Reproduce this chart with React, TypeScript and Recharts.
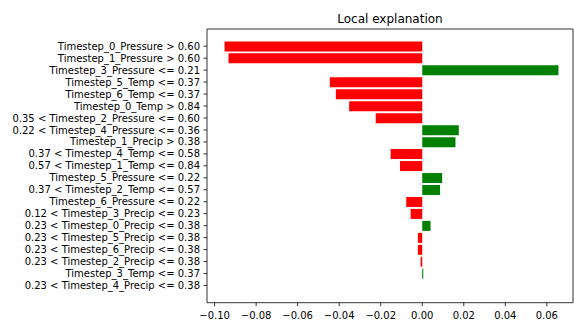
import React from 'react';
import { BarChart, Bar, XAxis, YAxis, Cell } from 'recharts';

const labels: string[] = [
  'Timestep_0_Pressure > 0.60',
  'Timestep_1_Pressure > 0.60',
  'Timestep_3_Pressure <= 0.21',
  'Timestep_5_Temp <= 0.37',
  'Timestep_6_Temp <= 0.37',
  'Timestep_0_Temp > 0.84',
  '0.35 < Timestep_2_Pressure <= 0.60',
  '0.22 < Timestep_4_Pressure <= 0.36',
  'Timestep_1_Precip > 0.38',
  '0.37 < Timestep_4_Temp <= 0.58',
  '0.57 < Timestep_1_Temp <= 0.84',
  'Timestep_5_Pressure <= 0.22',
  '0.37 < Timestep_2_Temp <= 0.57',
  'Timestep_6_Pressure <= 0.22',
  '0.12 < Timestep_3_Precip <= 0.23',
  '0.23 < Timestep_0_Precip <= 0.38',
  '0.23 < Timestep_5_Precip <= 0.38',
  '0.23 < Timestep_6_Precip <= 0.38',
  '0.23 < Timestep_2_Precip <= 0.38',
  'Timestep_3_Temp <= 0.37',
  '0.23 < Timestep_4_Precip <= 0.38',
];

const weights: number[] = [
  -0.0952, -0.0933, 0.0656, -0.0445, -0.0416, -0.0352, -0.0224, 0.0176, 0.016,
  -0.0152, -0.0107, 0.0096, 0.0086, -0.0077, -0.0056, 0.004, -0.0021, -0.0021,
  -0.0008, 0.0005, 0,
];

const xTicks: number[] = [-0.1, -0.08, -0.06, -0.04, -0.02, 0, 0.02, 0.04, 0.06];

const X_MIN = -0.10365;
const X_MAX = 0.0726;

const data = labels.map((label, i) => ({ label, value: weights[i] }));

const fmt = (v: number) => {
  const s = Math.abs(v).toFixed(2);
  return v < -1e-9 ? '\u2212' + s : s;
};

const font = 'DejaVu Sans, sans-serif';
const axisStroke = { stroke: '#000', strokeWidth: 0.8 };

const YTick = (props: any) => {
  const { x, y, payload } = props;
  return (
    <text x={x} y={y} dy="0.355em" textAnchor="end" fontFamily={font} fontSize={10} fill="#000">
      {payload.value}
    </text>
  );
};

const XTick = (props: any) => {
  const { x, y, payload } = props;
  return (
    <text x={x} y={y} dy="0.75em" textAnchor="middle" fontFamily={font} fontSize={10} fill="#000">
      {fmt(payload.value)}
    </text>
  );
};

export default function App() {
  return (
    <div style={{ position: 'absolute', left: 0, top: 0, width: 574, height: 323, fontFamily: font, background: '#fff' }}>
      <div
        style={{
          position: 'absolute',
          left: 207,
          top: 12,
          width: 366,
          textAlign: 'center',
          fontSize: 12,
          lineHeight: '14px',
          color: '#000',
          fontFamily: font,
        }}
      >
        Local explanation
      </div>
      <BarChart
        width={574}
        height={323}
        data={data}
        layout="vertical"
        margin={{ top: 28, right: 0, bottom: 0, left: 0 }}
        barCategoryGap="10%"
      >
        <XAxis
          xAxisId="b"
          type="number"
          domain={[X_MIN, X_MAX]}
          allowDataOverflow
          ticks={xTicks}
          orientation="bottom"
          height={20.3}
          tick={<XTick />}
          tickSize={3.5}
          tickMargin={5}
          axisLine={axisStroke}
          tickLine={axisStroke}
          interval={0}
        />
        <XAxis
          xAxisId="t"
          type="number"
          domain={[X_MIN, X_MAX]}
          allowDataOverflow
          orientation="top"
          height={1}
          tick={false}
          tickLine={false}
          axisLine={axisStroke}
        />
        <YAxis
          yAxisId="l"
          type="category"
          dataKey="label"
          width={207}
          padding={{ top: 11.2, bottom: 11.2 }}
          tick={<YTick />}
          tickSize={3.5}
          tickMargin={3.5}
          axisLine={axisStroke}
          tickLine={axisStroke}
          interval={0}
        />
        <YAxis
          yAxisId="r"
          type="category"
          dataKey="label"
          orientation="right"
          width={1}
          tick={false}
          tickLine={false}
          axisLine={axisStroke}
        />
        <Bar dataKey="value" xAxisId="b" yAxisId="l" isAnimationActive={false}>
          {data.map((d, i) => (
            <Cell key={i} fill={d.value < 0 ? '#ff0000' : '#008000'} />
          ))}
        </Bar>
      </BarChart>
    </div>
  );
}
